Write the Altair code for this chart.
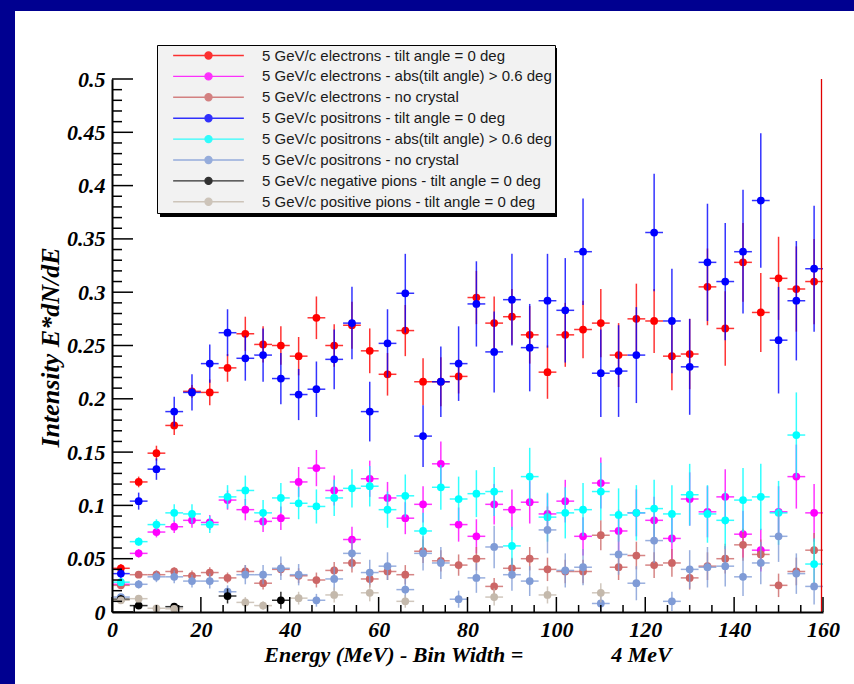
import altair as alt
import pandas as pd

# ---------------- data ----------------
energy = [2, 6, 10, 14, 18, 22, 26, 30, 34, 38,
          42, 46, 50, 54, 58, 62, 66, 70, 74, 78,
          82, 86, 90, 94, 98, 102, 106, 110, 114, 118,
          122, 126, 130, 134, 138, 142, 146, 150, 154, 158]

names = [
    "5 GeV/c electrons - tilt angle = 0 deg",
    "5 GeV/c electrons - abs(tilt angle) > 0.6 deg",
    "5 GeV/c electrons - no crystal",
    "5 GeV/c positrons - tilt angle = 0 deg",
    "5 GeV/c positrons - abs(tilt angle) > 0.6 deg",
    "5 GeV/c positrons - no crystal",
    "5 GeV/c negative pions - tilt angle = 0 deg",
    "5 GeV/c positive pions - tilt angle = 0 deg",
]
colors = ["#ff0000", "#ff00ff", "#cc6666", "#0000ff", "#00ffff", "#7f9bd6", "#000000", "#c4b9ac"]

e_tilt0 = [0.041, 0.122, 0.149, 0.175, 0.207, 0.206, 0.229, 0.261, 0.251, 0.250,
           0.240, 0.276, 0.250, 0.269, 0.245, 0.223, 0.264, 0.216, 0.216, 0.221,
           0.295, 0.271, 0.277, 0.260, 0.225, 0.260, 0.265, 0.271, 0.241, 0.275,
           0.273, 0.240, 0.242, 0.305, 0.266, 0.328, 0.281, 0.313, 0.303, 0.310]
e_tilt0_err = [0.004, 0.005, 0.007, 0.009, 0.006, 0.012, 0.013, 0.016, 0.017, 0.018,
               0.018, 0.020, 0.020, 0.022, 0.021, 0.020, 0.024, 0.022, 0.023, 0.016,
               0.025, 0.025, 0.026, 0.027, 0.025, 0.030, 0.027, 0.032, 0.030, 0.033,
               0.030, 0.032, 0.033, 0.036, 0.035, 0.037, 0.037, 0.039, 0.040, 0.040]

e_tilt06 = [0.026, 0.055, 0.075, 0.080, 0.086, 0.084, 0.105, 0.096, 0.085, 0.088,
            0.122, 0.135, 0.114, 0.068, 0.125, 0.107, 0.088, 0.101, 0.139, 0.082,
            0.071, 0.101, 0.096, 0.103, 0.092, 0.104, 0.071, 0.121, 0.076, 0.093,
            0.086, 0.069, 0.106, 0.094, 0.108, 0.073, 0.058, 0.094, 0.127, 0.093]
e_tilt06_err = [0.003, 0.004, 0.005, 0.006, 0.007, 0.007, 0.009, 0.010, 0.010, 0.011,
                0.014, 0.017, 0.014, 0.012, 0.017, 0.015, 0.015, 0.017, 0.021, 0.016,
                0.016, 0.019, 0.019, 0.020, 0.019, 0.020, 0.018, 0.024, 0.020, 0.022,
                0.022, 0.020, 0.025, 0.024, 0.026, 0.022, 0.020, 0.024, 0.030, 0.027]

e_nocry = [0.025, 0.035, 0.035, 0.038, 0.034, 0.037, 0.032, 0.038, 0.027, 0.040,
           0.034, 0.030, 0.039, 0.046, 0.031, 0.038, 0.035, 0.057, 0.048, 0.044,
           0.050, 0.024, 0.041, 0.050, 0.040, 0.038, 0.038, 0.072, 0.042, 0.053,
           0.044, 0.046, 0.032, 0.043, 0.050, 0.063, 0.054, 0.025, 0.038, 0.058]
e_nocry_err = [0.003, 0.003, 0.004, 0.004, 0.005, 0.005, 0.005, 0.006, 0.006, 0.006,
               0.007, 0.007, 0.008, 0.009, 0.008, 0.008, 0.009, 0.011, 0.010, 0.010,
               0.011, 0.008, 0.010, 0.011, 0.011, 0.011, 0.011, 0.014, 0.012, 0.013,
               0.012, 0.013, 0.011, 0.013, 0.014, 0.015, 0.014, 0.011, 0.013, 0.016]

p_tilt0 = [0.036, 0.104, 0.134, 0.188, 0.206, 0.233, 0.262, 0.238, 0.241, 0.219,
           0.204, 0.209, 0.237, 0.271, 0.188, 0.252, 0.299, 0.165, 0.216, 0.233,
           0.289, 0.244, 0.293, 0.248, 0.292, 0.283, 0.338, 0.224, 0.226, 0.241,
           0.356, 0.273, 0.230, 0.328, 0.310, 0.338, 0.386, 0.255, 0.292, 0.322]
p_tilt0_err = [0.005, 0.008, 0.010, 0.014, 0.017, 0.018, 0.022, 0.021, 0.025, 0.024,
               0.024, 0.026, 0.028, 0.034, 0.028, 0.032, 0.037, 0.029, 0.033, 0.035,
               0.040, 0.038, 0.043, 0.041, 0.044, 0.049, 0.050, 0.041, 0.043, 0.045,
               0.055, 0.049, 0.045, 0.055, 0.055, 0.058, 0.063, 0.050, 0.056, 0.059]

p_tilt06 = [0.028, 0.066, 0.082, 0.093, 0.092, 0.082, 0.108, 0.114, 0.093, 0.107,
            0.102, 0.099, 0.107, 0.116, 0.118, 0.096, 0.109, 0.076, 0.117, 0.106,
            0.111, 0.113, 0.062, 0.127, 0.089, 0.093, 0.096, 0.113, 0.091, 0.093,
            0.097, 0.092, 0.110, 0.092, 0.086, 0.105, 0.108, 0.093, 0.166, 0.045]
p_tilt06_err = [0.003, 0.004, 0.005, 0.008, 0.009, 0.008, 0.011, 0.014, 0.012, 0.014,
                0.015, 0.016, 0.017, 0.018, 0.019, 0.017, 0.020, 0.017, 0.021, 0.021,
                0.022, 0.023, 0.018, 0.027, 0.023, 0.024, 0.025, 0.027, 0.025, 0.026,
                0.027, 0.027, 0.029, 0.027, 0.027, 0.030, 0.031, 0.030, 0.040, 0.024]

p_nocry = [0.014, 0.026, 0.033, 0.033, 0.029, 0.029, 0.019, 0.035, 0.035, 0.041,
           0.035, 0.011, 0.031, 0.055, 0.037, 0.043, 0.021, 0.055, 0.046, 0.012,
           0.032, 0.061, 0.035, 0.029, 0.077, 0.039, 0.042, 0.008, 0.054, 0.027,
           0.067, 0.010, 0.040, 0.042, 0.043, 0.033, 0.046, 0.071, 0.036, 0.024]
p_nocry_err = [0.003, 0.004, 0.005, 0.006, 0.006, 0.007, 0.006, 0.009, 0.009, 0.011,
               0.010, 0.006, 0.011, 0.014, 0.012, 0.013, 0.010, 0.016, 0.015, 0.008,
               0.014, 0.020, 0.015, 0.014, 0.022, 0.016, 0.017, 0.008, 0.019, 0.016,
               0.021, 0.009, 0.018, 0.019, 0.019, 0.018, 0.020, 0.024, 0.019, 0.017]

pim_energy = [2, 6, 14, 26, 38]
pim = [0.012, 0.006, 0.005, 0.015, 0.011]
pim_err = [0.004, 0.003, 0.003, 0.007, 0.008]

pip_energy = [2, 6, 10, 14, 30, 34, 42, 50, 58, 66, 86, 98, 110]
pip = [0.011, 0.0125, 0.0035, 0.003, 0.009, 0.006, 0.013, 0.016, 0.018, 0.010, 0.014, 0.016, 0.018]
pip_err = [0.003, 0.003, 0.002, 0.002, 0.005, 0.004, 0.006, 0.007, 0.008, 0.006, 0.008, 0.008, 0.009]

x_major = [0, 20, 40, 60, 80, 100, 120, 140, 160]
x_minor = [v for v in range(0, 161, 5) if v % 20 != 0]
y_major = [0, 0.05, 0.1, 0.15, 0.2, 0.25, 0.3, 0.35, 0.4, 0.45, 0.5]
y_minor = [round(i * 0.01, 2) for i in range(51) if i % 5 != 0]

# ---------------- build ----------------
W, H = 711, 533
SERIF = "Liberation Serif"

xscale = alt.Scale(domain=[0, 160], nice=False, zero=False)
yscale = alt.Scale(domain=[0, 0.5], nice=False, zero=False, clamp=True)

xaxis = alt.Axis(values=x_major, format="d", ticks=False, grid=False, zindex=1,
                 domainColor="black", domainWidth=2,
                 labelFont=SERIF, labelFontSize=22, labelFontStyle="italic",
                 labelFontWeight="bold", labelColor="black", labelPadding=7,
                 labelFlush=False,
                 title="Energy (MeV) - Bin Width =" + "\u00a0" * 16 + "4 MeV",
                 titleFont=SERIF, titleFontSize=22, titleFontStyle="italic",
                 titleFontWeight="bold", titleColor="black",
                 titleBaseline="alphabetic", titleY=49)
yaxis = alt.Axis(values=y_major, format="~g", ticks=False, grid=False, zindex=1,
                 domainColor="black", domainWidth=2,
                 labelFont=SERIF, labelFontSize=22, labelFontStyle="italic",
                 labelFontWeight="bold", labelColor="black", labelPadding=7,
                 labelFlush=False,
                 title="Intensity E*dN/dE",
                 titleFont=SERIF, titleFontSize=26, titleFontStyle="italic",
                 titleFontWeight="bold", titleColor="black",
                 titleAngle=270, titleBaseline="middle", titleAlign="center",
                 titleX=-62, titleY=268)

LEG_PATH = ("M-10.1,0H10.1"
            "M1,0A1,1,0,1,1,-1,0A1,1,0,1,1,1,0"
            "M0.55,0A0.55,0.55,0,1,1,-0.55,0A0.55,0.55,0,1,1,0.55,0"
            "M0.15,0A0.15,0.15,0,1,1,-0.15,0A0.15,0.15,0,1,1,0.15,0")
legend = alt.Legend(orient="none", legendX=45, legendY=-34, title=None, zindex=3,
                    fillColor="#f2f2f2", strokeColor="black",
                    symbolType=LEG_PATH, symbolSize=49, symbolStrokeWidth=1.4,
                    labelFont="Liberation Sans", labelFontSize=15,
                    labelColor="#1a1a1a", labelLimit=420,
                    padding=3, rowPadding=4.9, symbolOffset=41, labelOffset=46)

cscale = alt.Scale(domain=names, range=colors)

one = pd.DataFrame({"a": [0]})
layers = []
# white slide area
layers.append(alt.Chart(one).mark_rect(color="white").encode(
    x=alt.value(-97), x2=alt.value(742), y=alt.value(-68), y2=alt.value(605)))
# legend shadow
layers.append(alt.Chart(one).mark_rect(color="black").encode(
    x=alt.value(48), x2=alt.value(445), y=alt.value(-31), y2=alt.value(138)))

all_series = [
    (energy, e_tilt0, e_tilt0_err),
    (energy, e_tilt06, e_tilt06_err),
    (energy, e_nocry, e_nocry_err),
    (energy, p_tilt0, p_tilt0_err),
    (energy, p_tilt06, p_tilt06_err),
    (energy, p_nocry, p_nocry_err),
    (pim_energy, pim, pim_err),
    (pip_energy, pip, pip_err),
]

for name, (xs, ys, es) in zip(names, all_series):
    df = pd.DataFrame({
        "series": name,
        "x": xs,
        "xlo": [x - 2 for x in xs],
        "xhi": [x + 2 for x in xs],
        "y": ys,
        "ylo": [max(0.0, y - e) for y, e in zip(ys, es)],
        "yhi": [y + e for y, e in zip(ys, es)],
    })
    base = alt.Chart(df)
    vbar = base.mark_rule(strokeWidth=1.5, opacity=0.8).encode(
        x=alt.X("x:Q", scale=xscale, axis=xaxis),
        y=alt.Y("ylo:Q", scale=yscale, axis=yaxis), y2="yhi:Q",
        color=alt.Color("series:N", scale=cscale, legend=legend))
    hbar = base.mark_rule(strokeWidth=1.5, opacity=0.8).encode(
        x=alt.X("xlo:Q", scale=xscale, axis=xaxis), x2="xhi:Q",
        y=alt.Y("y:Q", scale=yscale, axis=yaxis),
        color=alt.Color("series:N", scale=cscale, legend=legend))
    pts = base.mark_point(filled=True, size=60, opacity=1, strokeWidth=0.5).encode(
        x=alt.X("x:Q", scale=xscale, axis=xaxis),
        y=alt.Y("y:Q", scale=yscale, axis=yaxis),
        color=alt.Color("series:N", scale=cscale, legend=legend))
    layers += [vbar, hbar, pts]

# red edge line at the right of the frame
layers.append(alt.Chart(one).mark_rule(color="#e00000", strokeWidth=1.3, xOffset=-1.5).encode(
    x=alt.datum(160, scale=xscale, axis=xaxis), y=alt.value(0), y2=alt.value(H)))

# inside ticks
layers.append(alt.Chart(pd.DataFrame({"v": x_major})).mark_rule(color="black", strokeWidth=1.5).encode(
    x=alt.X("v:Q", scale=xscale, axis=xaxis), y=alt.value(H), y2=alt.value(H - 15)))
layers.append(alt.Chart(pd.DataFrame({"v": x_minor})).mark_rule(color="black", strokeWidth=1.5).encode(
    x=alt.X("v:Q", scale=xscale, axis=xaxis), y=alt.value(H), y2=alt.value(H - 7)))
layers.append(alt.Chart(pd.DataFrame({"v": y_major})).mark_rule(color="black", strokeWidth=1.5).encode(
    y=alt.Y("v:Q", scale=yscale, axis=yaxis), x=alt.value(0), x2=alt.value(21)))
layers.append(alt.Chart(pd.DataFrame({"v": y_minor})).mark_rule(color="black", strokeWidth=1.5).encode(
    y=alt.Y("v:Q", scale=yscale, axis=yaxis), x=alt.value(0), x2=alt.value(10)))

chart = alt.layer(*layers).properties(
    width=W, height=H,
    padding={"left": 112, "top": 79, "right": 31, "bottom": 72},
    autosize=alt.AutoSizeParams(type="none"),
    background="#000090",
).configure_view(stroke="#333333", strokeWidth=1, fill="white")

chart.save("out.html", embed_options={"renderer": "svg", "actions": False})
